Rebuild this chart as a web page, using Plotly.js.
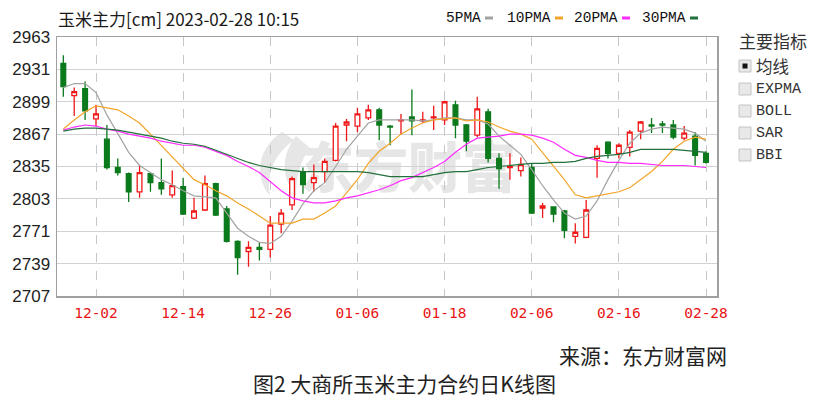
<!DOCTYPE html>
<html><head><meta charset="utf-8">
<script src="https://cdn.plot.ly/plotly-3.0.1.min.js"></script>
<style>html,body{margin:0;padding:0;background:#fff;}#chart{width:817px;height:398px;}</style>
</head><body><div id="chart"></div>
<script>
// ---- data ----
const dates = ['11-29','11-30','12-01','12-02','12-05','12-06','12-07','12-08','12-09','12-12','12-13','12-14','12-15','12-16','12-19','12-20','12-21','12-22','12-23','12-26','12-27','12-28','12-29','12-30','01-03','01-04','01-05','01-06','01-09','01-10','01-11','01-12','01-13','01-16','01-17','01-18','01-19','01-20','01-30','01-31','02-01','02-02','02-03','02-06','02-07','02-08','02-09','02-10','02-13','02-14','02-15','02-16','02-17','02-20','02-21','02-22','02-23','02-24','02-27','02-28'];
const openP  = [2937,2905,2912,2882,2862,2834,2828,2810,2828,2819,2807,2815,2784,2792,2818,2793,2761,2751,2755,2753,2778,2797,2830,2819,2830,2841,2876,2875,2883,2891,2875,2880,2884,2880,2883,2881,2896,2876,2866,2889,2843,2834,2831,2834,2794,2795,2791,2766,2765,2843,2859,2848,2854,2870,2876,2877,2876,2863,2865,2848];
const highP  = [2945,2913,2919,2896,2876,2843,2829,2836,2829,2843,2831,2824,2804,2826,2819,2796,2762,2761,2760,2786,2793,2825,2834,2837,2843,2878,2882,2893,2896,2893,2876,2887,2911,2889,2895,2900,2900,2877,2904,2892,2848,2848,2844,2838,2799,2795,2792,2779,2802,2856,2860,2858,2871,2880,2883,2880,2881,2875,2869,2850];
const lowP   = [2904,2885,2881,2875,2832,2826,2800,2804,2810,2807,2804,2787,2783,2791,2786,2760,2728,2736,2742,2745,2769,2792,2808,2810,2819,2840,2860,2869,2881,2861,2856,2867,2866,2878,2871,2876,2863,2850,2864,2839,2813,2822,2825,2788,2784,2780,2764,2759,2764,2824,2843,2843,2845,2862,2868,2868,2862,2861,2836,2838];
const closeP = [2914,2909,2890,2887,2834,2829,2810,2829,2819,2813,2816,2788,2791,2818,2787,2761,2745,2755,2753,2777,2789,2823,2817,2824,2840,2875,2879,2887,2891,2876,2874,2881,2880,2881,2884,2899,2876,2860,2892,2843,2833,2835,2837,2789,2796,2788,2772,2770,2792,2853,2848,2856,2869,2879,2875,2876,2864,2868,2846,2839];
const ma5  = [2913,2917,2917,2908,2886,2867,2849,2836,2829,2822,2817,2811,2806,2805,2804,2789,2774,2766,2760,2759,2766,2781,2798,2811,2819,2835,2852,2865,2878,2881,2881,2881,2881,2880,2881,2883,2883,2881,2881,2877,2865,2856,2847,2832,2816,2802,2789,2783,2786,2801,2822,2841,2858,2868,2872,2874,2873,2872,2868,2860];
const ma10 = [2872,2881,2889,2895,2893,2891,2885,2878,2867,2856,2844,2834,2822,2817,2811,2806,2799,2793,2786,2779,2779,2779,2783,2783,2789,2796,2809,2822,2838,2850,2858,2867,2873,2878,2881,2882,2883,2880,2881,2879,2874,2870,2867,2862,2849,2835,2822,2807,2804,2806,2808,2810,2814,2822,2830,2840,2852,2860,2864,2862];
const ma20 = [2871,2874,2876,2875,2872,2870,2867,2865,2863,2860,2858,2856,2856,2854,2850,2846,2840,2835,2829,2820,2811,2804,2801,2799,2799,2801,2804,2806,2809,2812,2816,2821,2824,2829,2834,2840,2849,2857,2863,2864,2865,2867,2867,2866,2863,2859,2852,2846,2844,2841,2839,2839,2838,2838,2837,2836,2836,2836,2835,2834];
const ma30 = [2870,2872,2873,2873,2872,2871,2869,2867,2865,2863,2860,2858,2857,2855,2851,2847,2843,2839,2836,2834,2832,2831,2830,2830,2830,2830,2830,2830,2829,2827,2825,2825,2825,2825,2827,2829,2830,2830,2832,2834,2835,2836,2837,2838,2838,2839,2839,2840,2843,2845,2846,2847,2849,2852,2852,2852,2852,2851,2850,2849];
const tickDates = ['12-02','12-14','12-26','01-06','01-18','02-06','02-16','02-28'];
const yTicks = [2707,2739,2771,2803,2835,2867,2899,2931,2963];
const maNames = ['5PMA','10PMA','20PMA','30PMA'];
const indicators = ['均线','EXPMA','BOLL','SAR','BBI'];
const titleText = '玉米主力[cm] 2023-02-28 10:15';
const panelTitle = '主要指标';
const sourceText = '来源：东方财富网';
const captionText = '图2 大商所玉米主力合约日K线图';

// ---- styles / geometry ----
const maColors = ['#a3a3a3','#f2a52a','#ff2bff','#23703c'];
const L = 57, R = 717, T = 37, B = 296, W = 817, H = 398;
const px = x => (x - L) / (R - L);
const py = y => (B - y) / (B - T);
const cjk = 'Noto Sans CJK SC';
const mono = 'Liberation Mono';

const traces = [{
  type: 'candlestick', x: dates, open: openP, high: highP, low: lowP, close: closeP,
  increasing: {line: {color: '#f01818', width: 1.3}, fillcolor: '#ffffff'},
  decreasing: {line: {color: '#0b7a1c', width: 1.3}, fillcolor: '#0b7a1c'},
  whiskerwidth: 0, hoverinfo: 'skip', showlegend: false
}];
[ma5, ma10, ma20, ma30].forEach((arr, i) => traces.push({
  type: 'scatter', mode: 'lines', x: dates, y: arr,
  line: {color: maColors[i], width: 1.2}, hoverinfo: 'skip', showlegend: false
}));

const annotations = [];
const shapes = [];
function ann(text, x, y, font, xanchor) {
  annotations.push({text, x: px(x), y: py(y), xref: 'paper', yref: 'paper',
    xanchor: xanchor || 'left', yanchor: 'middle', showarrow: false, borderpad: 0, font});
}
ann(titleText, 57, 19, {family: cjk, size: 17, color: '#1a1a1a'});
// top legend
const legX = [447, 508, 575, 643];
const legDash = [485, 555, 622, 690];
maNames.forEach((n, i) => {
  ann(n, legX[i] - 2, 18, {family: mono, size: 14.5, color: '#111'});
  shapes.push({type: 'rect', xref: 'paper', yref: 'paper', x0: px(legDash[i]), x1: px(legDash[i] + 8),
    y0: py(16.5), y1: py(19.5), fillcolor: maColors[i], line: {width: 0}});
});
// right panel
ann(panelTitle, 738, 41, {family: cjk, size: 17, color: '#333'});
const rowY = [66, 89, 111, 133, 155];
indicators.forEach((n, i) => {
  shapes.push({type: 'rect', xref: 'paper', yref: 'paper', x0: px(739), x1: px(751),
    y0: py(rowY[i] + 6), y1: py(rowY[i] - 6), fillcolor: '#e8e8e8', line: {color: '#c4c4c4', width: 1}});
  if (i === 0) shapes.push({type: 'rect', xref: 'paper', yref: 'paper', x0: px(742.5), x1: px(747.5),
    y0: py(rowY[i] + 2.5), y1: py(rowY[i] - 2.5), fillcolor: '#111', line: {width: 0}});
  ann(n, 755, rowY[i], i === 0 ? {family: cjk, size: 16.5, color: '#333'} : {family: mono, size: 15, color: '#333'});
});
ann(sourceText, 643, 355, {family: cjk, size: 21, color: '#222'}, 'center');
ann(captionText, 405, 383, {family: cjk, size: 21, color: '#222'}, 'center');

const wm = '<svg xmlns="http://www.w3.org/2000/svg" width="267" height="70">' +
  '<path d="M34 4 C12 18 4 46 22 68 C18 48 24 28 46 12 Z M48 8 C32 28 34 52 48 68 C48 46 54 30 62 20 Z" fill="#e6e6e6"/>' +
  '<text x="52" y="60" font-family="Noto Sans CJK SC" font-weight="900" font-size="54" fill="#e6e6e6">东方财富</text></svg>';

const layout = {
  width: W, height: H, margin: {l: L, r: W - R, t: T, b: H - B, pad: 0},
  paper_bgcolor: '#ffffff', plot_bgcolor: 'rgba(0,0,0,0)',
  boxgap: 0.38, showlegend: false,
  xaxis: {type: 'category', range: [-0.58, 60.01], tickvals: tickDates, ticktext: tickDates,
    showgrid: true, griddash: 'dash', gridcolor: '#c6c6c6', gridwidth: 1,
    showline: true, mirror: true, linecolor: '#a0a0a0', linewidth: 1.5,
    ticks: 'outside', ticklen: 3, tickcolor: 'rgba(0,0,0,0)',
    tickfont: {family: 'DejaVu Sans Mono', size: 14.5, color: '#e81414'},
    rangeslider: {visible: false}, fixedrange: true},
  yaxis: {range: [2707, 2963], tickvals: yTicks, ticktext: yTicks.map(String),
    showgrid: true, gridcolor: '#d2d2d2', gridwidth: 1, zeroline: false,
    showline: true, mirror: true, linecolor: '#a0a0a0', linewidth: 1.5,
    ticks: 'outside', ticklen: 2, tickcolor: 'rgba(0,0,0,0)',
    tickfont: {family: 'Liberation Sans', size: 17, color: '#222'}, fixedrange: true},
  annotations, shapes,
  images: [{source: 'data:image/svg+xml;charset=utf-8,' + encodeURIComponent(wm),
    xref: 'paper', yref: 'paper', x: px(248), y: py(128), sizex: 267 / (R - L), sizey: 70 / (B - T),
    xanchor: 'left', yanchor: 'top', sizing: 'stretch', layer: 'below'}]
};
Plotly.newPlot('chart', traces, layout, {staticPlot: true, displayModeBar: false});
</script></body></html>
